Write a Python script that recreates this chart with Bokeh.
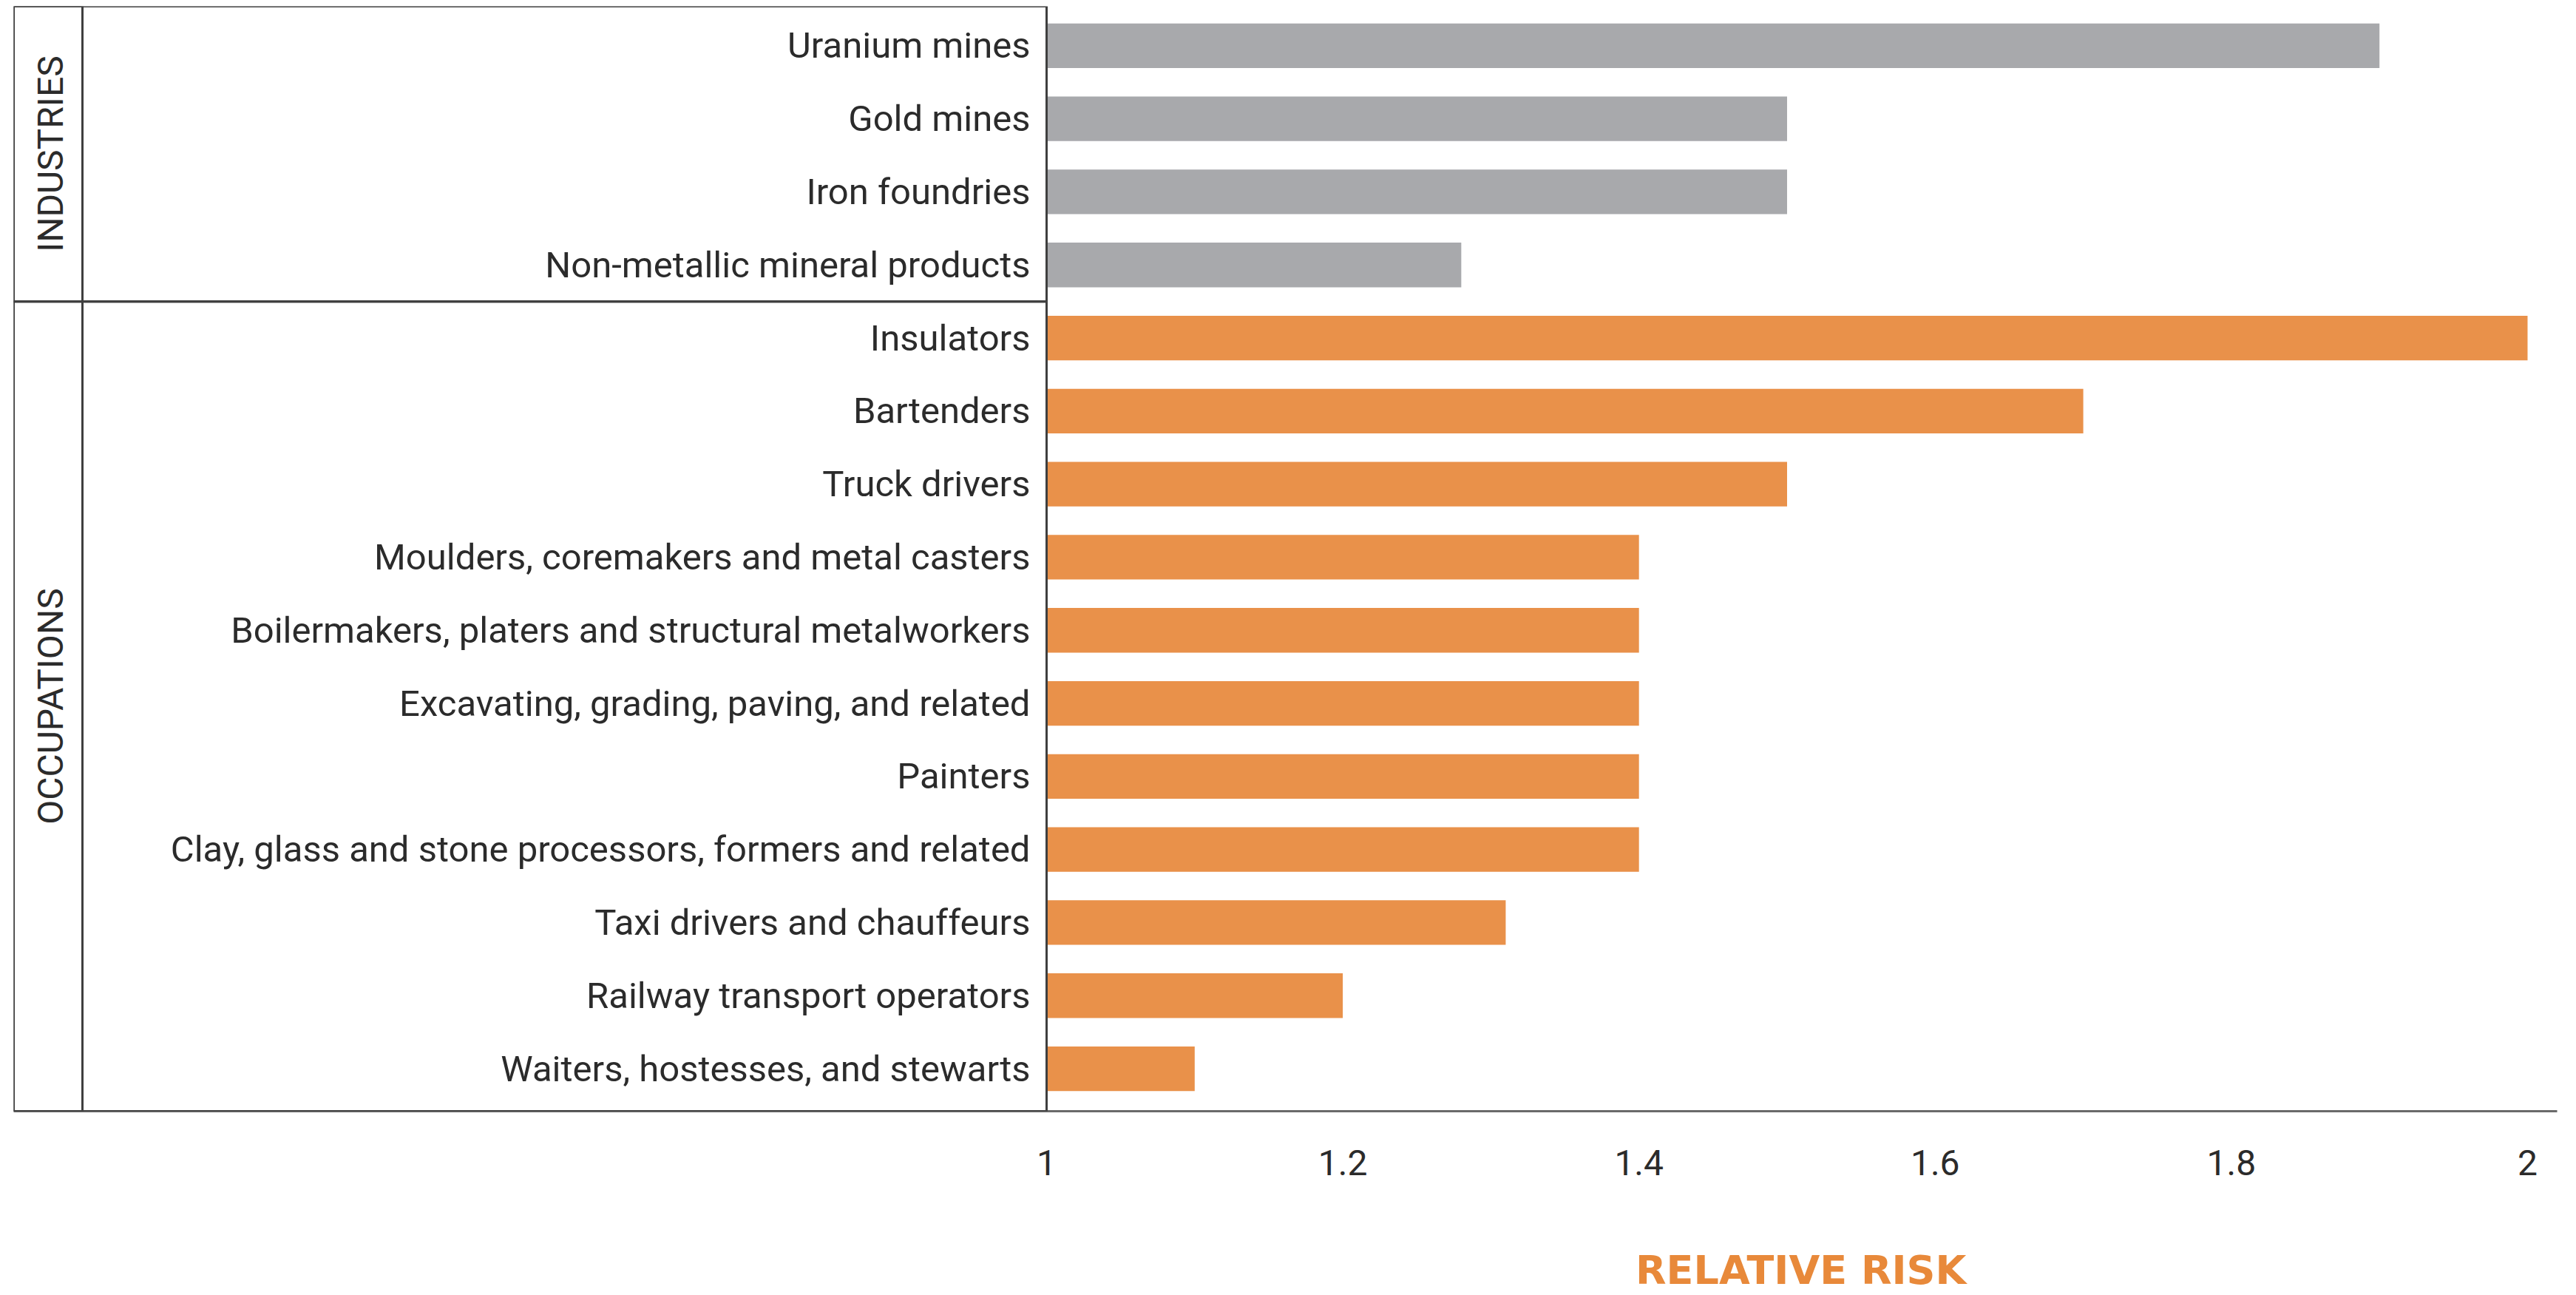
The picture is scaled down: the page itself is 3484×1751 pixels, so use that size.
import math
from bokeh.plotting import figure
from bokeh.models import Range1d, FixedTicker, BoxAnnotation, ColumnDataSource, Title
from bokeh.core.properties import value
from bokeh.embed import file_html
from bokeh.resources import INLINE

# ---------------- data ----------------
INDUSTRIES = ["Uranium mines", "Gold mines", "Iron foundries",
              "Non-metallic mineral products"]
INDUSTRY_RR = [1.9, 1.5, 1.5, 1.28]

OCCUPATIONS = ["Insulators", "Bartenders", "Truck drivers",
               "Moulders, coremakers and metal casters",
               "Boilermakers, platers and structural metalworkers",
               "Excavating, grading, paving, and related",
               "Painters",
               "Clay, glass and stone processors, formers and related",
               "Taxi drivers and chauffeurs",
               "Railway transport operators",
               "Waiters, hostesses, and stewarts"]
OCCUPATION_RR = [2.0, 1.7, 1.5, 1.4, 1.4, 1.4, 1.4, 1.4, 1.31, 1.2, 1.1]

GROUP_LABELS = ["INDUSTRIES", "OCCUPATIONS"]
TICK_VALUES = [1, 1.2, 1.4, 1.6, 1.8, 2]
TICK_LABELS = ["1", "1.2", "1.4", "1.6", "1.8", "2"]
AXIS_TITLE = "RELATIVE RISK"
BASELINE = 1

# ---------------- layout ----------------
FRAME_W = 3440
FRAME_H = 1494
LABEL_PANEL_PX = 1397      # frame left edge -> baseline (value 1)
PX_PER_UNIT = 2003
GROUP_COL_PX = 93
ROW_PX = 98.8
PAD_TOP = 0.54

n_rows = len(INDUSTRIES) + len(OCCUPATIONS)
PAD_BOTTOM = FRAME_H / ROW_PX - (n_rows - 1) - PAD_TOP
X_START = BASELINE - LABEL_PANEL_PX / PX_PER_UNIT
X_END = X_START + FRAME_W / PX_PER_UNIT
Y_TOP = -PAD_TOP
Y_BOTTOM = (n_rows - 1) + PAD_BOTTOM
DIVIDER = len(INDUSTRIES) - 0.5

GRAY = "#A8A9AC"
ORANGE = "#E9914A"
LINE = "#3f3f3f"
TEXT = "#2b2b2b"
FONT = "Roboto"

p = figure(frame_width=FRAME_W, frame_height=FRAME_H,
           x_range=Range1d(X_START, X_END),
           y_range=Range1d(Y_BOTTOM, Y_TOP),
           output_backend="svg", toolbar_location=None,
           y_axis_location=None,
           min_border_left=18, min_border_right=10,
           min_border_top=8, min_border_bottom=0)
p.outline_line_color = None
p.xgrid.visible = False
p.ygrid.visible = False
p.background_fill_color = "white"

ind_y = list(range(len(INDUSTRIES)))
occ_y = list(range(len(INDUSTRIES), n_rows))

src_ind = ColumnDataSource(dict(y=ind_y, right=INDUSTRY_RR, name=INDUSTRIES))
src_occ = ColumnDataSource(dict(y=occ_y, right=OCCUPATION_RR, name=OCCUPATIONS))

for src, col in ((src_ind, GRAY), (src_occ, ORANGE)):
    p.hbar(y="y", left=BASELINE, right="right", height=0.61,
           fill_color=col, line_color=None, source=src)
    p.text(x=BASELINE, y="y", text="name", x_offset=-22,
           text_align="right", text_baseline="middle",
           text_font=value(FONT), text_font_size="49px",
           text_color=TEXT, source=src)

# boxes on the left
box_kw = dict(fill_color=None, line_color=LINE, line_alpha=1.0, line_width=3)
p.add_layout(BoxAnnotation(left=X_START, right=BASELINE, top=Y_TOP, bottom=DIVIDER, **box_kw))
p.add_layout(BoxAnnotation(left=X_START, right=BASELINE, top=DIVIDER, bottom=Y_BOTTOM, **box_kw))
p.add_layout(BoxAnnotation(left=X_START, right=X_START + GROUP_COL_PX / PX_PER_UNIT,
                           top=Y_TOP, bottom=Y_BOTTOM, **box_kw))

# rotated group labels
gx = X_START + (GROUP_COL_PX / 2 + 3) / PX_PER_UNIT
p.text(x=[gx, gx], y=[(Y_TOP + DIVIDER) / 2, (DIVIDER + Y_BOTTOM) / 2],
       text=GROUP_LABELS, angle=math.pi / 2,
       text_align="center", text_baseline="middle",
       text_font=value(FONT), text_font_size="48px", text_color=TEXT)

# x axis
ax = p.xaxis[0]
ax.ticker = FixedTicker(ticks=TICK_VALUES)
ax.major_label_overrides = dict(zip(TICK_VALUES, TICK_LABELS))
ax.major_tick_line_color = None
ax.minor_tick_line_color = None
ax.major_tick_out = 0
ax.major_tick_in = 0
ax.axis_line_color = "#6a6a6a"
ax.axis_line_width = 3
ax.major_label_text_font = FONT
ax.major_label_text_font_size = "48px"
ax.major_label_text_color = TEXT
ax.major_label_standoff = 52
# blank spacer label: pushes the title panel down
ax.axis_label = " "
ax.axis_label_text_font_size = "20px"
ax.axis_label_standoff = 66

# axis title centred under the bar area (placed as a panel below the axis)
TITLE_W_PX = 450
title_offset = LABEL_PANEL_PX + (FRAME_W - LABEL_PANEL_PX) / 2 - TITLE_W_PX / 2
p.add_layout(Title(text=AXIS_TITLE, align="left", offset=title_offset,
                   standoff=2, text_font="DejaVu Sans", text_font_size="54px",
                   text_font_style="bold", text_color="#E8893A"), "below")

open("out.html", "w").write(file_html(p, INLINE))
